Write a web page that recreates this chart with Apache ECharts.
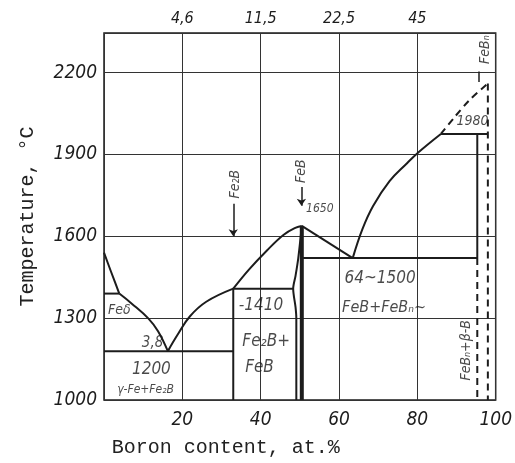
<!DOCTYPE html>
<html>
<head>
<meta charset="utf-8">
<script src="https://cdn.jsdelivr.net/npm/echarts@6/dist/echarts.min.js"></script>
<style>
html, body { margin: 0; background: #fff; }
#main { width: 515px; height: 463px; }
</style>
</head>
<body>
<div id="main"></div>
<script>
// axes
var xMin = 0, xMax = 100, xStep = 20;
var tMin = 1000, tMax = 2345, tStep = 300;
var topTickPos = [20, 40, 60, 80];
var topTickText = ['4,6', '11,5', '22,5', '45'];

// phase boundaries, [B at.%, T °C]
var liquidusDelta = [[0, 1540], [1.8, 1470], [3.9, 1390]];
var liquidusFe = [[3.9, 1390], [7.1, 1353], [11.3, 1299], [13.8, 1252], [16.3, 1179]];
var deltaLine = [[0, 1390], [3.9, 1390]];
var eutecticFe = [[0, 1179], [33, 1179]];
var liquidusFe2B = [[16.3, 1179], [18.7, 1237], [21.9, 1306], [26.1, 1360], [33, 1408]];
var liquidusFeBl = [[33, 1408], [37, 1478], [41.6, 1548], [45.8, 1605], [49, 1632], [50.5, 1638]];
var liquidusFeBr = [[50.5, 1638], [63.5, 1520]];
var liquidusB = [[63.5, 1520], [66, 1627], [68.7, 1711], [72.9, 1802], [77.1, 1864], [80.3, 1908], [86, 1975]];
var liquidusBdash = [[86, 1975], [89.4, 2035], [93.3, 2099], [98, 2160]];
var fe2bLine = [[33, 1408], [33, 1000]];
var peritectic = [[33, 1408], [48.3, 1408]];
var febLeft = [[50.5, 1638], [49.6, 1520], [48.9, 1455], [48.3, 1408], [48.9, 1340], [49.1, 1299], [49.1, 1000]];
var febLine = [[50.5, 1638], [50.5, 1000]];
var eutecticB = [[50.6, 1520], [95.3, 1520]];
var plateau1980 = [[86, 1975], [98, 1975]];
var febnSolid = [[95.3, 1975], [95.3, 1520]];
var febnDash = [[95.3, 1520], [95.3, 1000]];
var boronDash = [[98, 2160], [98, 1000]];

// pointer lines
var fe2bArrow = [[33, 1719], [33, 1600]];
var febArrow = [[50.4, 1781], [50.4, 1712]];
var febnArrow = [[95.6, 2204], [95.6, 2165]];

// text: [text, at.%, T, rotate, size]
var notes = [
	['Feδ', 3.9, 1328, 0, 14],
	['3,8', 12.4, 1210, 0, 15],
	['1200', 12.1, 1113, 0, 17],
	['γ-Fe+Fe₂B', 10.6, 1036, 0, 12],
	['-1410', 40.1, 1346, 0, 17],
	['Fe₂B+', 41.4, 1215, 0, 17],
	['FeB', 39.7, 1117, 0, 17],
	['64~1500', 70.5, 1445, 0, 17],
	['FeB+FeBₙ~', 71.5, 1339, 0, 16],
	['1980', 94.1, 2020, 0, 14],
	['1650', 55.1, 1700, 0, 12],
	['FeBₙ+β-B', 92.6, 1182, 90, 14],
	['Fe₂B', 33.5, 1791, 90, 14],
	['FeB', 50.4, 1839, 90, 14],
	['FeBₙ', 97.3, 2284, 90, 14]
];

var ink = '#1c1c1c';
var tickFont = {
	color: ink,
	fontFamily: 'DejaVu Sans Condensed',
	fontStyle: 'italic'
};

function curve(data, width, dashed, smooth) {
	return {
		type: 'line',
		data: data,
		symbol: 'none',
		silent: true,
		smooth: smooth || false,
		lineStyle: {
			color: ink,
			width: width,
			type: dashed ? [7, 5] : 'solid'
		},
		z: 3
	};
}

function pointer(coords, arrow) {
	return {
		type: 'lines',
		coordinateSystem: 'cartesian2d',
		symbol: ['none', arrow ? 'arrow' : 'none'],
		symbolSize: 7,
		lineStyle: { color: ink, width: 1.5, opacity: 1 },
		data: [{ coords: coords }],
		z: 4
	};
}

var myChart = echarts.init(document.getElementById('main'));

var series = [
	curve(liquidusDelta, 2, false, 0.3),
	curve(liquidusFe, 2, false, 0.4),
	curve(deltaLine, 2),
	curve(eutecticFe, 2),
	curve(liquidusFe2B, 2, false, 0.4),
	curve(liquidusFeBl, 2, false, 0.4),
	curve(liquidusFeBr, 2),
	curve(liquidusB, 2, false, 0.4),
	curve(liquidusBdash, 2, true, 0.3),
	curve(fe2bLine, 2),
	curve(peritectic, 2),
	curve(febLeft, 2, false, 0.3),
	curve(febLine, 4),
	curve(eutecticB, 2),
	curve(plateau1980, 2),
	curve(febnSolid, 2),
	curve(febnDash, 2, true),
	curve(boronDash, 2, true),
	pointer(fe2bArrow, true),
	pointer(febArrow, true),
	pointer(febnArrow, false),
	{
		type: 'scatter',
		symbolSize: 0,
		silent: true,
		z: 5,
		data: notes.map(function(n) {
			return {
				value: [n[1], n[2]],
				name: n[0],
				label: { rotate: n[3], fontSize: n[4] }
			};
		}),
		label: {
			show: true,
			position: 'inside',
			formatter: '{b}',
			color: ink,
			fontFamily: 'DejaVu Sans Condensed',
			fontStyle: 'italic'
		}
	}
];

var option = {
	backgroundColor: '#fff',
	animation: false,
	grid: {
		left: 104,
		right: 5,
		top: 33,
		bottom: 61,
		show: true,
		borderColor: ink,
		borderWidth: 1.5
	},
	xAxis: [{
		type: 'value',
		min: xMin,
		max: xMax,
		interval: xStep,
		axisLine: { show: false },
		axisTick: { show: false },
		splitLine: { lineStyle: { color: '#333', width: 1 } },
		axisLabel: Object.assign({ fontSize: 19, margin: 11,
			formatter: function(v) { return v === 0 ? '' : String(v); } }, tickFont),
		name: 'Boron content, at.%',
		nameLocation: 'middle',
		nameGap: 38,
		nameTextStyle: {
			color: '#222',
			fontFamily: 'Liberation Mono',
			fontSize: 20,
			padding: [0, 148, 0, 0]
		}
	}, {
		type: 'value',
		position: 'top',
		min: xMin,
		max: xMax,
		interval: xStep,
		axisLine: { show: false },
		axisTick: { show: false },
		splitLine: { show: false },
		axisLabel: Object.assign({ fontSize: 16, margin: 6,
			formatter: function(v) {
				var i = topTickPos.indexOf(v);
				return i >= 0 ? topTickText[i] : '';
			} }, tickFont)
	}],
	yAxis: {
		type: 'value',
		min: tMin,
		max: tMax,
		interval: tStep,
		axisLine: { show: false },
		axisTick: { show: false },
		splitLine: { lineStyle: { color: '#333', width: 1 } },
		axisLabel: Object.assign({ fontSize: 19, margin: 7, showMaxLabel: false,
			formatter: function(v) { return String(v); } }, tickFont),
		name: 'Temperature, °C',
		nameLocation: 'middle',
		nameRotate: 90,
		nameGap: 66,
		nameTextStyle: {
			color: '#222',
			fontFamily: 'Liberation Mono',
			fontSize: 20
		}
	},
	series: series
};
myChart.setOption(option);
</script>
</body>
</html>
